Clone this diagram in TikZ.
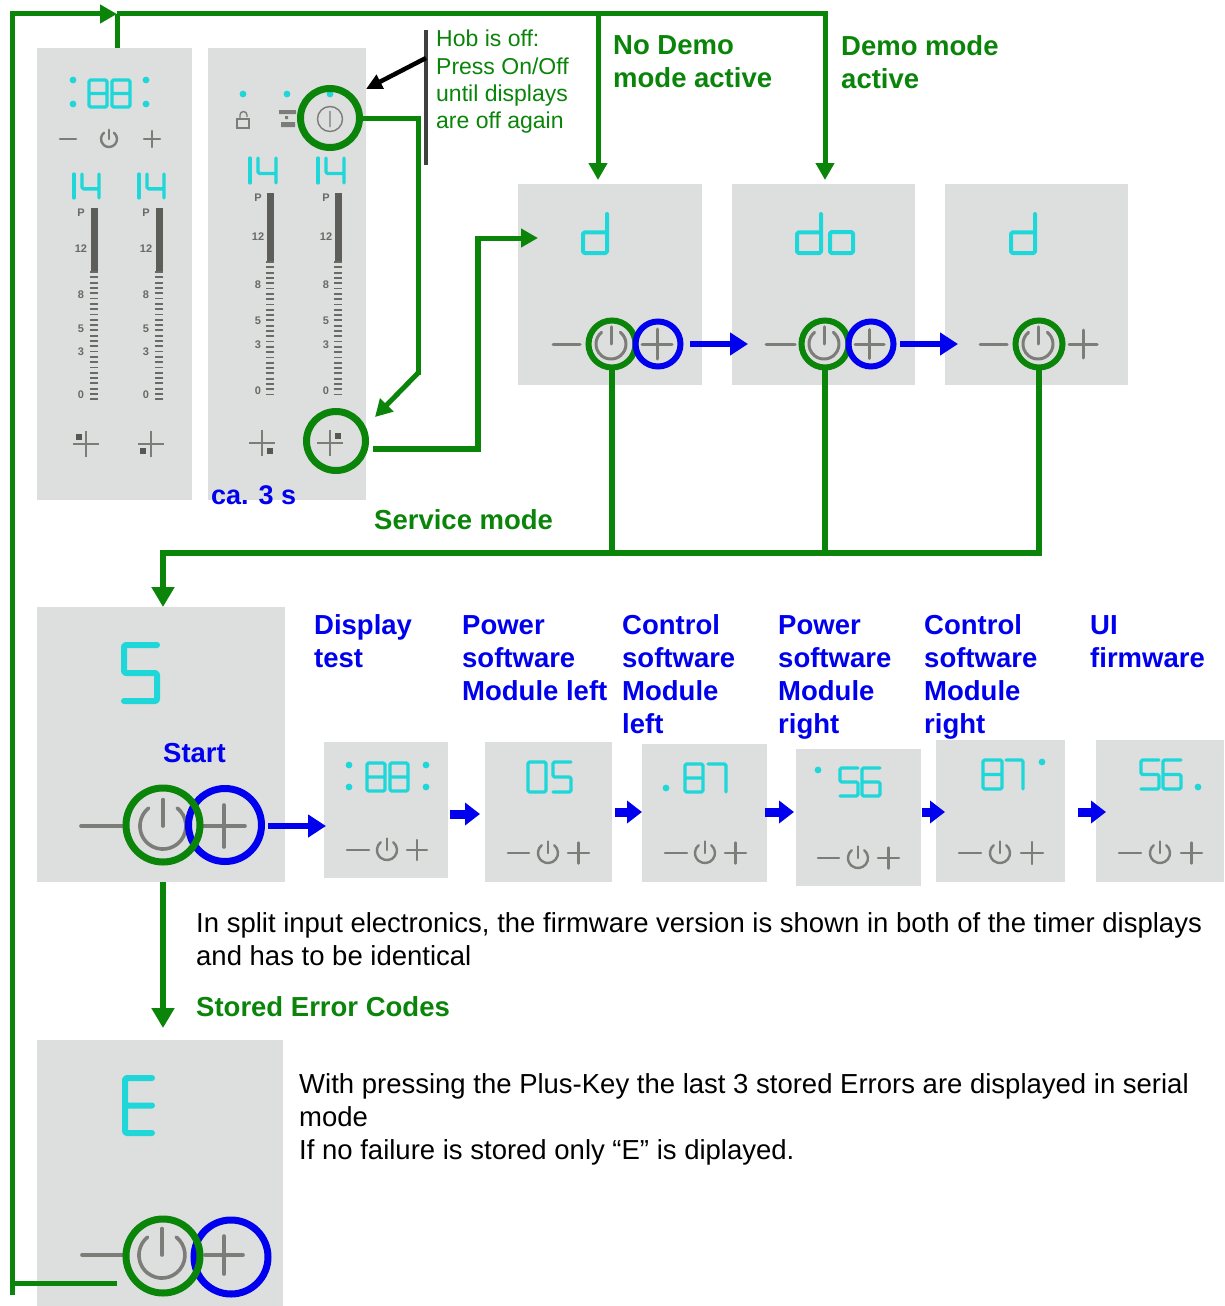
\documentclass[tikz,border=0pt]{standalone}
\usepackage{fontspec}
\setmainfont{Liberation Sans}
\usetikzlibrary{arrows.meta}
\definecolor{gr}{HTML}{0A850A}
\definecolor{bl}{HTML}{0000EE}
\definecolor{cy}{HTML}{1FD6D8}
\definecolor{pn}{HTML}{DCDFDE}
\definecolor{ky}{HTML}{7C7C78}
\tikzset{
 pbox/.style={fill=pn,draw=none,inner sep=0pt,outer sep=0pt},
 gcirc/.style={circle,draw=gr,line width=#1,inner sep=0pt,outer sep=0pt,fill=none},
 bcirc/.style={circle,draw=bl,line width=#1,inner sep=0pt,outer sep=0pt,fill=none},
 gline/.style={draw=gr,line width=5pt},
 garrow/.style={gline,-{Triangle[length=17pt,width=18pt]}},
 barrow/.style={draw=bl,line width=6pt,-{Triangle[length=18pt,width=22pt]}},
 sarrow/.style={draw=bl,line width=9pt,-{Triangle[length=15pt,width=22pt]},shorten <=0pt},
 dig/.style={draw=cy,line width=#1,line join=round,line cap=round,rounded corners=1.5pt},
 keyl/.style={draw=ky,line width=#1,line cap=round},
 gtext/.style={text=gr,font=\bfseries\fontsize{27.5}{33}\selectfont,anchor=north west,inner sep=0pt,align=left,execute at begin node={\rule{0pt}{20pt}}},
 btext/.style={gtext,text=bl},
 ntext/.style={text=black,font=\fontsize{27.5}{33}\selectfont,anchor=north west,inner sep=0pt,align=left,execute at begin node={\rule{0pt}{20pt}}},
 hobtext/.style={text=gr,font=\fontsize{23}{27.2}\selectfont,anchor=north west,inner sep=0pt,align=left,execute at begin node={\rule{0pt}{20pt}}},
 sl/.style={text=ky!85!black,font=\bfseries\fontsize{11}{11}\selectfont,inner sep=0pt},
}
% panel: name x0 y0 x1 y1
\newcommand{\panelbox}[5]{%
 \pgfmathsetmacro{\pw}{#4-#2}\pgfmathsetmacro{\ph}{#5-#3}%
 \node[pbox,minimum width=\pw pt,minimum height=\ph pt] (#1) at ({(#2+#4)/2},{(#3+#5)/2}) {};}
% glyphs in a unit box, y downward
\newcommand{\seven}[6][3.3pt]{%
 \begin{scope}[shift={(#2,#3)},x=#4pt,y=-#5pt]\draw[dig=#1] #6;\end{scope}}
\def\geight{(0,0)--(1,0)--(1,1)--(0,1)--cycle (0,.5)--(1,.5)}
\def\gzero{(0,0)--(1,0)--(1,1)--(0,1)--cycle}
\def\gd{(1,0)--(1,1)--(0,1)--(0,.47)--(1,.47)}
\def\go{(0,0)--(1,0)--(1,1)--(0,1)--cycle}
\def\gone{(0,0)--(0,1)}
\def\gfour{(0,0)--(0,.62)--(1,.62) (1,0)--(1,1)}
\def\gfive{(1,0)--(0,0)--(0,.5)--(1,.5)--(1,1)--(0,1)}
\def\gsix{(1,0)--(0,0)--(0,1)--(1,1)--(1,.5)--(0,.5)}
\def\gseven{(0,0)--(1,0)--(1,1)}
\def\gE{(1,0)--(0,0)--(0,1)--(1,1) (0,.5)--(1,.5)}
\newcommand{\dotc}[2]{\fill[cy] (#1,#2) circle (3.4pt);}
% keys: minus x0 x1, power cx, plus x0 x1, y, power radius, line width
\newcommand{\keyrow}[8]{%
 \draw[keyl=#8] (#1,#6)--(#2,#6);
 \draw[keyl=#8] ({#3+#7*0.62},{#6-#7*0.78}) arc[start angle=51.5,end angle=-231.5,radius=#7 pt];
 \draw[keyl=#8] (#3,{#6-#7*1.15})--(#3,#6);
 \draw[keyl=#8] (#4,#6)--(#5,#6);
 \draw[keyl=#8] ({(#4+#5)/2},{#6-(#5-#4)/2})--({(#4+#5)/2},{#6+(#5-#4)/2});}
% slider
\newcommand{\slider}[6]{%
 \fill[ky!75!black] ({#1-3.5},#3) rectangle ({#1+3.5},#4);
 \pgfmathsetmacro{\ysec}{#4+5.3}%
 \foreach \yy in {#4,\ysec,...,#5}{\draw[ky!85!black,line width=1.8pt] ({#1-3.8},\yy)--({#1+3.8},\yy);}
 \foreach \lb/\ly in {#6}{\node[sl] at (#2,\ly) {\lb};}}
% cross with marker square: cx cy sqx sqy
\newcommand{\crossk}[4]{%
 \draw[ky,line width=1.2pt] ({#1-13},#2)--({#1+13},#2) (#1,{#2-13})--(#1,{#2+13});
 \fill[ky!70!black] ({#3-3},{#4-3}) rectangle ({#3+3},{#4+3});}
\begin{document}
\begin{tikzpicture}[x=1pt,y=-1pt]
\useasboundingbox (0,0) rectangle (1225,1306);
\fill[white] (0,0) rectangle (1225,1306);
% panels
\panelbox{pA}{37}{48}{192}{500}
\panelbox{pB}{208}{48}{366}{500}
\panelbox{dA}{518}{184}{702}{385}
\panelbox{dB}{732}{184}{915}{385}
\panelbox{dC}{945}{184}{1128}{385}
\panelbox{pS}{37}{607}{285}{882}
\panelbox{pE}{37}{1040}{283}{1306}
\panelbox{sA}{324}{742}{448}{878}
\panelbox{sB}{485}{742}{612}{882}
\panelbox{sC}{642}{744}{767}{882}
\panelbox{sD}{796}{749}{921}{886}
\panelbox{sE}{936}{740}{1065}{882}
\panelbox{sF}{1096}{740}{1224}{882}
% panel A contents
\dotc{73}{80}\dotc{73}{104}\dotc{146}{80}\dotc{146}{104}
\seven{89}{80}{18}{27}{\geight}\seven{112}{80}{18}{27}{\geight}
\keyrow{60}{76}{109}{144}{160}{139}{8}{2.4pt}
\seven{74}{174}{1}{24}{\gone}\seven{82}{174}{17}{24}{\gfour}
\seven{139}{174}{1}{24}{\gone}\seven{147}{174}{17}{24}{\gfour}
\slider{94}{81}{208}{272}{402}{P/213,12/249,8/295,5/329,3/352,0/395}
\slider{159}{146}{208}{272}{402}{P/213,12/249,8/295,5/329,3/352,0/395}
\crossk{86}{444}{79}{437}
\crossk{151}{444}{143}{451}
% panel B contents
\dotc{243}{94}\dotc{287}{94}\dotc{330}{94}
\draw[ky,line width=1.4pt] (237,119) rectangle (249,128);
\draw[ky,line width=1.4pt] (240,119) -- (240,115) arc[start angle=180,end angle=0,radius=3.5pt] -- (247,117);
\fill[ky] (279,110) rectangle (296,114) (285,116) rectangle (288,119) (281,122) rectangle (295,127);
\draw[ky,line width=1.4pt] (330,119) circle (12.5pt) (330,111)--(330,127);
\seven{250}{158}{1}{25}{\gone}\seven{258}{158}{18}{25}{\gfour}
\seven{318}{158}{1}{25}{\gone}\seven{326}{158}{18}{25}{\gfour}
\slider{270}{258}{193}{262}{399}{P/198,12/237,8/285,5/321,3/345,0/391}
\slider{338}{326}{193}{262}{399}{P/198,12/237,8/285,5/321,3/345,0/391}
\crossk{262}{443}{270}{451}
\crossk{330}{443}{338}{436}
% d panels
\seven[4pt]{583}{214}{24}{39}{\gd}
\seven[4pt]{797}{214}{24}{39}{\gd}\seven[4pt]{830}{232}{23}{21}{\go}
\seven[4pt]{1011}{214}{24}{39}{\gd}
\keyrow{553}{580}{611}{642}{672}{344}{15}{3pt}
\keyrow{766}{795}{824}{855}{884}{344}{15}{3pt}
\keyrow{980}{1007}{1038}{1069}{1097}{344}{15}{3pt}
% S and E panels
\seven[6pt]{124}{645}{33}{56}{\gfive}
\keyrow{81}{122}{163}{203}{245}{826}{23}{3.6pt}
\seven[6pt]{125}{1078}{27}{55}{\gE}
\keyrow{82}{125}{162}{205}{243}{1255}{23}{3.6pt}
% small panels
\dotc{349}{765}\dotc{349}{787}\dotc{426}{765}\dotc{426}{787}
\seven{367}{763}{18}{28}{\geight}\seven{390}{763}{18}{28}{\geight}
\keyrow{347}{369}{387}{407}{427}{850}{10}{2.4pt}
\seven{528}{762}{18}{30}{\gzero}\seven{553}{762}{18}{30}{\gfive}
\keyrow{508}{529}{548}{568}{589}{853}{10}{2.4pt}
\dotc{666}{788}
\seven{685}{764}{18}{28}{\geight}\seven{708}{764}{18}{28}{\gseven}
\keyrow{665}{687}{705}{725}{746}{853}{10}{2.4pt}
\dotc{818}{770}
\seven{840}{768}{18}{28}{\gfive}\seven{862}{768}{18}{28}{\gsix}
\keyrow{818}{839}{858}{878}{899}{858}{10}{2.4pt}
\seven{983}{760}{19}{29}{\geight}\seven{1006}{760}{17}{29}{\gseven}
\dotc{1042}{762}
\keyrow{959}{981}{1000}{1021}{1043}{853}{10}{2.4pt}
\seven{1141}{760}{18}{29}{\gfive}\seven{1163}{760}{18}{29}{\gsix}
\dotc{1198}{787}
\keyrow{1119}{1141}{1160}{1181}{1202}{853}{10}{2.4pt}
% circles
\node[gcirc=7pt,minimum size=59pt] (cOn) at (330,118) {};
\node[gcirc=7pt,minimum size=59pt] (cZone) at (336,441) {};
\node[gcirc=6pt,minimum size=47pt] (gA) at (612,344) {};
\node[bcirc=6pt,minimum size=45pt] (bA) at (658,344) {};
\node[gcirc=6pt,minimum size=47pt] (gB) at (825,344) {};
\node[bcirc=6pt,minimum size=45pt] (bB) at (871,344) {};
\node[gcirc=6pt,minimum size=47pt] (gC) at (1039,344) {};
\node[bcirc=7pt,minimum size=73pt] (bS) at (225,825) {};
\node[gcirc=7pt,minimum size=74pt] (gS) at (163,825) {};
\node[bcirc=7pt,minimum size=74pt] (bE) at (231,1257) {};
\node[gcirc=7pt,minimum size=74pt] (gE) at (163,1256) {};
% named free ends
\coordinate (topL) at (12,14);
\coordinate (topM) at (117,14);
\coordinate (topN) at (598,14);
\coordinate (topD) at (825,14);
\coordinate (retS) at (117,1283);
\coordinate (retE) at (12,1295);
\coordinate (bus) at (1040,553);
\coordinate (busL) at (163,553);
\coordinate (tipA) at (748,344);
\coordinate (tailA) at (690,344);
\coordinate (tipB) at (958,344);
\coordinate (tailB) at (900,344);
\coordinate (tipS) at (326,826);
\coordinate (tailS) at (268,826);
% green connectors
\draw[gline] (retE)--(12,11.5);
\draw[gline] (retS)--(12,1283);
\draw[garrow] (12,14)--(topM);
\draw[gline] (topM)--(827.5,14);
\draw[gline,-{Triangle[length=17pt,width=18pt]}] (topD)--(825,180);
\draw[gline,-{Triangle[length=17pt,width=18pt]}] (topN)--(598,180);
\draw[gline] (topM)--(pA.north -| topM);
\draw[gline] (cOn.east)--(418,118)--(418,375);
\draw[gline,-{Triangle[length=17pt,width=18pt]}] (418,373)--(375,417);
\coordinate (zOut) at (373,449);
\draw[gline,line width=6pt] (zOut)--(478,449)--(478,238);
\draw[garrow] (475,238)--(538,238);
\draw[gline,line width=6pt] (gA.south)--(gA.south |- bus);
\draw[gline,line width=6pt] (gB.south)--(gB.south |- bus);
\draw[gline,line width=6pt] (gC.south)--(gC.south |- bus);
\draw[gline,line width=6pt] (1042,553)--(busL);
\draw[gline,line width=6pt,-{Triangle[length=20pt,width=22pt]}] (163,550)--(pS.north -| busL);
\draw[gline,line width=6pt,-{Triangle[length=20pt,width=22pt]}] (gS.south |- pS.south)--(163,1028);
% blue connectors
\draw[barrow] (tailA)--(tipA);
\draw[barrow] (tailB)--(tipB);
\draw[barrow] (tailS)--(tipS);
\draw[sarrow] (450,814)--(480,814);
\draw[sarrow] (615,812)--(642,812);
\draw[sarrow] (765,812)--(794,812);
\draw[sarrow] (922,812)--(945,812);
\draw[sarrow] (1078,812)--(1106,812);
% hob note
\draw[black!75,line width=3.5pt] (426,30)--(426,165);
\coordinate (noteArm) at (426,58);
\draw[black,line width=4.5pt,-{Triangle[length=16pt,width=15pt]}] (noteArm)--(366,89);
% texts
\node[hobtext] (nHob) at (436,30) {Hob is off:\\Press On/Off\\until displays\\are off again};
\node[gtext] (nNoDemo) at (613,35) {No Demo\\mode active};
\node[gtext] (nDemo) at (841,35) {Demo mode\\active};
\node[btext,font=\bfseries\fontsize{27}{33}\selectfont] (nCa) at (211,484) {ca. 3 s};
\node[gtext] (nService) at (374,509) {Service mode};
\node[btext] (nDisp) at (314,614.5) {Display\\test};
\node[btext] (nPowL) at (462,615) {Power\\software\\Module left};
\node[btext] (nCtrlL) at (622,614.5) {Control\\software\\Module\\left};
\node[btext] (nPowR) at (778,615) {Power\\software\\Module\\right};
\node[btext] (nCtrlR) at (924,614.5) {Control\\software\\Module\\right};
\node[btext] (nUI) at (1090,615) {UI\\firmware};
\node[btext] (nStart) at (163,742) {Start};
\node[ntext] (nSplit) at (196,912.5) {In split input electronics, the firmware version is shown in both of the timer displays\\and has to be identical};
\node[gtext] (nStored) at (196,996) {Stored Error Codes};
\node[ntext] (nPlus) at (299,1073.5) {With pressing the Plus-Key the last 3 stored Errors are displayed in serial\\mode\\If no failure is stored only “E” is diplayed.};
\end{tikzpicture}
\end{document}
